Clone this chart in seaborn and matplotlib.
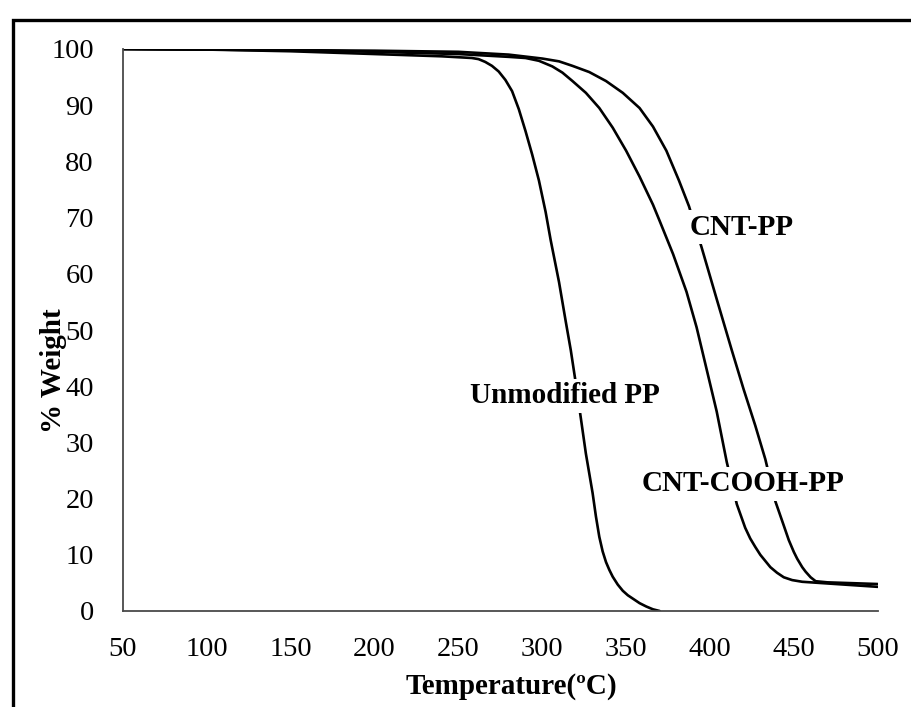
import numpy as np
import pandas as pd
import matplotlib
matplotlib.use("Agg")
import matplotlib.pyplot as plt
import seaborn as sns
from matplotlib.patches import Rectangle

# ---- data ----
temp_unmod = [50, 100, 150, 200, 240, 258, 262, 266, 270, 274, 278, 282, 286, 290, 294, 298, 302,
              305, 310, 314, 317, 320, 323, 326, 330, 332, 334, 336, 338, 340, 342, 345, 348, 351,
              354, 358, 362, 366, 370]
wt_unmod = [100, 99.9, 99.6, 99.1, 98.7, 98.4, 98.2, 97.7, 97.0, 96.0, 94.5, 92.5, 89.3, 85.4, 81.2,
            76.6, 71.0, 66.0, 58.5, 51.5, 46.4, 40.5, 34.3, 28.0, 21.0, 16.8, 13.2, 10.6, 8.7, 7.3,
            6.1, 4.7, 3.6, 2.8, 2.2, 1.4, 0.8, 0.3, 0.0]

temp_cooh = [50, 100, 150, 200, 250, 280, 290, 298, 306, 312, 318, 326, 334, 342, 350, 358, 366,
             370, 378, 386, 392, 398, 404, 410, 416, 421, 424, 427, 430, 433, 436, 440, 444, 449,
             455, 460, 470, 480, 490, 500]
wt_cooh = [100, 99.9, 99.8, 99.5, 99.1, 98.6, 98.4, 97.9, 96.9, 95.8, 94.3, 92.2, 89.5, 86.0, 81.9,
           77.3, 72.3, 69.4, 63.5, 56.8, 50.5, 43.0, 35.5, 26.5, 19.0, 14.8, 12.9, 11.4, 10.0, 8.9,
           7.8, 6.8, 6.0, 5.5, 5.2, 5.1, 4.9, 4.7, 4.5, 4.3]

temp_cnt = [50, 100, 150, 200, 250, 280, 300, 310, 318, 328, 338, 348, 358, 366, 374, 381.5, 387.5,
            395, 404, 413, 420, 427, 433, 439, 444, 447, 450, 452, 455, 457, 460, 463, 470, 480,
            490, 500]
wt_cnt = [100, 99.9, 99.8, 99.7, 99.5, 99.0, 98.3, 97.8, 97.0, 95.9, 94.3, 92.2, 89.5, 86.2, 81.9,
          76.6, 72.0, 64.7, 55.5, 46.4, 39.5, 33.0, 27.0, 19.5, 15.2, 12.6, 10.5, 9.3, 7.8, 7.0,
          6.0, 5.3, 5.1, 5.0, 4.9, 4.8]

series_names = ["Unmodified PP", "CNT-COOH-PP", "CNT-PP"]
x_ticks = [50, 100, 150, 200, 250, 300, 350, 400, 450, 500]
y_ticks = [0, 10, 20, 30, 40, 50, 60, 70, 80, 90, 100]
label_pos = {"Unmodified PP": (313.5, 38.3), "CNT-PP": (419.0, 68.3), "CNT-COOH-PP": (419.5, 22.6)}

df = pd.concat([
    pd.DataFrame({"T": temp_unmod, "W": wt_unmod, "series": series_names[0]}),
    pd.DataFrame({"T": temp_cooh, "W": wt_cooh, "series": series_names[1]}),
    pd.DataFrame({"T": temp_cnt, "W": wt_cnt, "series": series_names[2]}),
], ignore_index=True)

sns.set_theme(style="white")
plt.rcParams['font.family'] = ['Liberation Serif', 'DejaVu Serif']
plt.rcParams['text.color'] = 'black'
plt.rcParams['axes.labelcolor'] = 'black'
plt.rcParams['xtick.color'] = 'black'
plt.rcParams['ytick.color'] = 'black'

W_PX, H_PX = 911, 707
fig = plt.figure(figsize=(W_PX / 100, H_PX / 100), dpi=100)
ax = fig.add_axes([123 / W_PX, 1 - 611 / H_PX, (877.7 - 123) / W_PX, (611 - 49) / H_PX])

sns.lineplot(data=df, x="T", y="W", hue="series", palette={n: "black" for n in series_names},
             sort=False, estimator=None, legend=False, linewidth=1.9, ax=ax)
for ln in ax.lines:
    ln.set_solid_joinstyle("round")

ax.set_xlim(50, 500)
ax.set_ylim(0, 100)
ax.set_xticks(x_ticks)
ax.set_yticks(y_ticks)
ax.set_xticklabels([str(t) for t in x_ticks])
ax.set_yticklabels([str(t) for t in y_ticks])
ax.set_facecolor("white")
for s in ["top", "right"]:
    ax.spines[s].set_visible(False)
for s in ["left", "bottom"]:
    ax.spines[s].set_color("#4a4a4a")
    ax.spines[s].set_linewidth(1.3)
ax.tick_params(axis="both", which="major", direction="out", length=10, width=1.3,
               color="#4a4a4a", labelsize=20.5, labelcolor="black")
ax.tick_params(axis="x", pad=9)
ax.tick_params(axis="y", pad=11)

ax.set_xlabel("Temperature(ºC)", fontsize=21, fontweight="bold", color="black")
ax.set_ylabel("% Weight", fontsize=21, fontweight="bold", color="black")
ax.xaxis.set_label_coords(0.514, -0.11)
ax.yaxis.set_label_coords(-0.074, 0.428)

for name, (tx, ty) in label_pos.items():
    ax.text(tx, ty, name, fontsize=21, fontweight="bold", ha="center", va="center", color="black",
            bbox=dict(boxstyle="square,pad=0.12", fc="white", ec="none"), zorder=5)

fig.patches.append(Rectangle((13 / W_PX, -0.05), 1.2, (1 - 20 / H_PX) + 0.05,
                             transform=fig.transFigure, fill=False, lw=2.4, ec="black"))

fig.savefig("out.png", dpi=100, facecolor="white")
